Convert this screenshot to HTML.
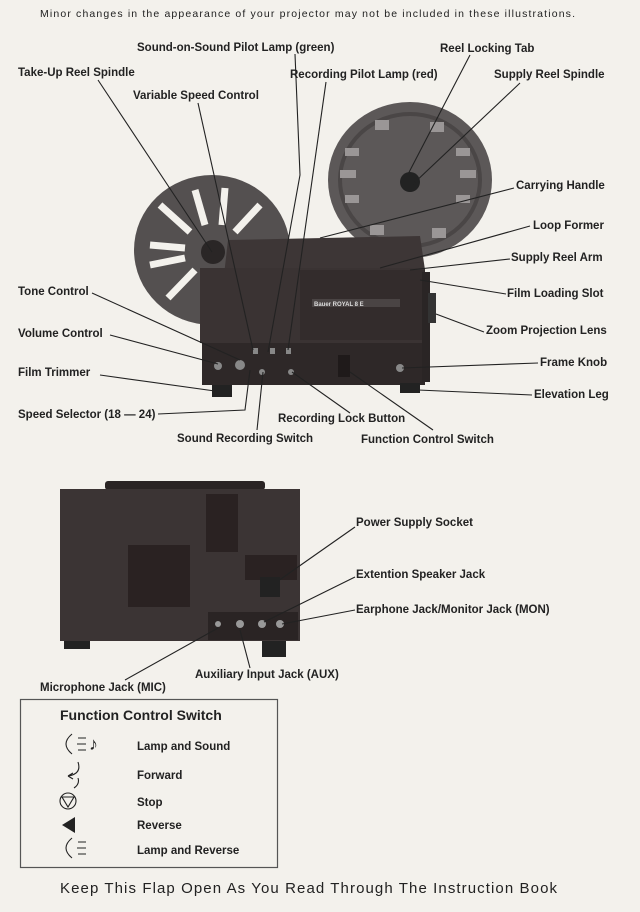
<!DOCTYPE html>
<html><head><meta charset="utf-8"><style>
html,body{margin:0;padding:0;background:#f3f1ec;}
svg{display:block}
text{font-family:"Liberation Sans",sans-serif;font-size:11.5px;fill:#222;font-weight:bold}
.l{stroke:#222;stroke-width:1.1;fill:none}
</style></head><body>
<svg width="640" height="912" viewBox="0 0 640 912" xmlns="http://www.w3.org/2000/svg">
<rect width="640" height="912" fill="#f3f1ec"/>
<text x="40" y="17" style="font-weight:normal;font-size:10.5px" textLength="535">Minor changes in the appearance of your projector may not be included in these illustrations.</text>

<!-- supply reel -->
<ellipse cx="410" cy="180" rx="82" ry="78" fill="#5c5858"/>
<ellipse cx="410" cy="180" rx="70" ry="66" fill="none" stroke="#4a4646" stroke-width="4"/>
<g fill="#9a9696">
<rect x="340" y="170" width="16" height="8"/><rect x="460" y="170" width="16" height="8"/>
<rect x="345" y="148" width="14" height="8"/><rect x="456" y="148" width="14" height="8"/>
<rect x="345" y="195" width="14" height="8"/><rect x="456" y="195" width="14" height="8"/>
<rect x="375" y="120" width="14" height="10"/><rect x="430" y="122" width="14" height="10"/>
<rect x="370" y="225" width="14" height="10"/><rect x="432" y="228" width="14" height="10"/>
</g>
<circle cx="410" cy="182" r="10" fill="#222"/>
<!-- take-up reel -->
<ellipse cx="212" cy="250" rx="78" ry="75" fill="#545050"/>
<g stroke="#f3f1ec" stroke-width="7">
<line x1="150" y1="245" x2="185" y2="248"/><line x1="240" y1="250" x2="280" y2="252"/>
<line x1="195" y1="190" x2="205" y2="225"/><line x1="215" y1="275" x2="222" y2="312"/>
<line x1="160" y1="205" x2="190" y2="232"/><line x1="235" y1="268" x2="265" y2="295"/>
<line x1="260" y1="205" x2="235" y2="232"/><line x1="168" y1="298" x2="195" y2="270"/>
<line x1="150" y1="265" x2="185" y2="258"/><line x1="225" y1="188" x2="222" y2="225"/>
</g>
<circle cx="213" cy="252" r="12" fill="#2a2626"/>
<!-- projector body -->
<polygon points="228,240 420,236 425,270 224,275" fill="#3d3636"/>
<rect x="200" y="268" width="225" height="75" fill="#3a3333"/>
<rect x="300" y="270" width="125" height="70" fill="#332c2c"/>
<rect x="312" y="299" width="88" height="8" fill="#4a4444"/>
<text x="314" y="306" style="font-size:6px;fill:#ddd">Bauer ROYAL 8 E</text>
<rect x="202" y="343" width="223" height="42" fill="#2e2828"/>
<rect x="422" y="272" width="8" height="110" fill="#2a2525"/>
<rect x="428" y="293" width="8" height="30" fill="#333"/>
<g fill="#888"><rect x="253" y="348" width="5" height="6"/><rect x="270" y="348" width="5" height="6"/><rect x="286" y="348" width="5" height="6"/>
<circle cx="240" cy="365" r="5"/><circle cx="218" cy="366" r="4"/><circle cx="262" cy="372" r="3"/><circle cx="291" cy="372" r="3"/><circle cx="400" cy="368" r="4"/></g>
<rect x="338" y="355" width="12" height="22" fill="#1f1a1a"/>
<rect x="212" y="385" width="20" height="12" fill="#222"/>
<rect x="400" y="383" width="20" height="10" fill="#222"/>

<!-- connectors top -->
<polyline class="l" points="295,54 300,175 268,352"/>
<line class="l" x1="470" y1="55" x2="405" y2="180"/>
<line class="l" x1="98" y1="80" x2="212" y2="252"/>
<line class="l" x1="326" y1="82" x2="288" y2="350"/>
<line class="l" x1="520" y1="83" x2="412" y2="185"/>
<line class="l" x1="198" y1="103" x2="253" y2="350"/>
<line class="l" x1="514" y1="188" x2="320" y2="238"/>
<line class="l" x1="530" y1="226" x2="380" y2="268"/>
<line class="l" x1="510" y1="259" x2="410" y2="270"/>
<line class="l" x1="506" y1="294" x2="420" y2="280"/>
<line class="l" x1="484" y1="332" x2="436" y2="314"/>
<line class="l" x1="538" y1="363" x2="402" y2="368"/>
<line class="l" x1="532" y1="395" x2="418" y2="390"/>
<line class="l" x1="92" y1="293" x2="240" y2="360"/>
<line class="l" x1="110" y1="335" x2="218" y2="364"/>
<line class="l" x1="100" y1="375" x2="222" y2="392"/>
<polyline class="l" points="158,414 245,410 250,370"/>
<line class="l" x1="257" y1="430" x2="263" y2="372"/>
<line class="l" x1="350" y1="413" x2="292" y2="372"/>
<line class="l" x1="433" y1="430" x2="350" y2="372"/>

<text x="137" y="51">Sound-on-Sound Pilot Lamp (green)</text>
<text x="440" y="52">Reel Locking Tab</text>
<text x="18" y="76">Take-Up Reel Spindle</text>
<text x="290" y="78">Recording Pilot Lamp (red)</text>
<text x="494" y="78">Supply Reel Spindle</text>
<text x="133" y="99">Variable Speed Control</text>
<text x="516" y="189">Carrying Handle</text>
<text x="533" y="229">Loop Former</text>
<text x="511" y="261">Supply Reel Arm</text>
<text x="507" y="297">Film Loading Slot</text>
<text x="486" y="334">Zoom Projection Lens</text>
<text x="540" y="366">Frame Knob</text>
<text x="534" y="398">Elevation Leg</text>
<text x="18" y="295">Tone Control</text>
<text x="18" y="337">Volume Control</text>
<text x="18" y="376">Film Trimmer</text>
<text x="18" y="418">Speed Selector (18 — 24)</text>
<text x="177" y="442">Sound Recording Switch</text>
<text x="278" y="422">Recording Lock Button</text>
<text x="361" y="443">Function Control Switch</text>

<!-- rear view -->
<rect x="105" y="481" width="160" height="9" rx="3" fill="#2a2424"/>
<rect x="60" y="489" width="240" height="152" fill="#3b3434"/>
<g fill="#2a2222"><rect x="128" y="545" width="62" height="62"/><rect x="206" y="494" width="32" height="58"/><rect x="245" y="555" width="52" height="25"/></g>
<rect x="260" y="577" width="20" height="20" fill="#222"/>
<rect x="208" y="612" width="90" height="28" fill="#2a2424"/>
<g fill="#999"><circle cx="218" cy="624" r="3"/><circle cx="240" cy="624" r="4"/><circle cx="262" cy="624" r="4"/><circle cx="280" cy="624" r="4"/></g>
<rect x="64" y="641" width="26" height="8" fill="#222"/>
<rect x="262" y="641" width="24" height="16" fill="#222"/>
<line class="l" x1="355" y1="527" x2="268" y2="588"/>
<line class="l" x1="355" y1="577" x2="264" y2="622"/>
<line class="l" x1="355" y1="610" x2="282" y2="624"/>
<line class="l" x1="125" y1="680" x2="218" y2="628"/>
<line class="l" x1="250" y1="668" x2="240" y2="630"/>
<text x="356" y="526">Power Supply Socket</text>
<text x="356" y="578">Extention Speaker Jack</text>
<text x="356" y="613">Earphone Jack/Monitor Jack (MON)</text>
<text x="40" y="691">Microphone Jack (MIC)</text>
<text x="195" y="678">Auxiliary Input Jack (AUX)</text>

<!-- legend -->
<rect x="20.5" y="699.5" width="257" height="168" fill="none" stroke="#555" stroke-width="1.2"/>
<text x="60" y="720" style="font-size:14px">Function Control Switch</text>
<g class="l" stroke-width="1.3"><path d="M72,734 q-12,10 0,20"/><path d="M78,738 h8 M77,744 h9 M78,750 h8"/>
<path d="M78,762 q4,12 -10,14 M68,776 l5,-3 M68,776 l5,3 M78,778 q2,6 -4,10"/>
<circle cx="68" cy="801" r="8"/><path d="M62,797 h12 l-6,10 z"/>
<path d="M72,838 q-12,10 0,20"/><path d="M78,842 h8 M77,848 h9 M78,854 h8"/></g>
<text x="89" y="750" style="font-size:18px;font-weight:normal">♪</text>
<polygon points="75,817 75,833 62,825" fill="#222"/>
<text x="137" y="750">Lamp and Sound</text>
<text x="137" y="779">Forward</text>
<text x="137" y="806">Stop</text>
<text x="137" y="829">Reverse</text>
<text x="137" y="854">Lamp and Reverse</text>

<text x="60" y="893" style="font-size:15px;font-weight:normal" textLength="497">Keep This Flap Open As You Read Through The Instruction Book</text>
</svg>
</body></html>
